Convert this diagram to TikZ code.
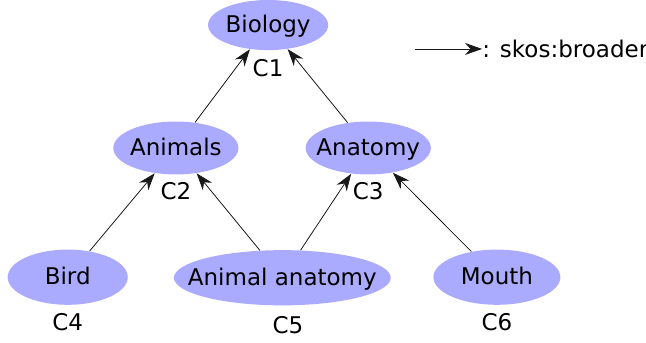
\documentclass[tikz,border=0pt]{standalone}
\usepackage{fontspec}
\setmainfont{DejaVu Sans}
\usetikzlibrary{arrows.meta,shapes.geometric}
\definecolor{conceptblue}{RGB}{170,170,255}
\tikzset{
  concept/.style={ellipse, fill=conceptblue, inner sep=0pt, minimum width=2.2cm, minimum height=0.93cm,
    label={[font=\fontsize{11.5}{13}\selectfont, text height=8.4pt, text depth=1pt, inner sep=0pt]center:#1}},
  cid/.style={font=\fontsize{11.5}{13}\selectfont, inner sep=0pt},
  broader/.style={-{Stealth[length=3mm, width=2.1mm]}, thin, black!90},
}
\begin{document}
\begin{tikzpicture}
    \useasboundingbox (0,0) rectangle (11.35,-6.01);
    \node[concept=Biology, minimum width=2.11cm, minimum height=0.88cm] (bio) at (4.71,-0.44) {};
    \node[concept=Animals] (animals) at (3.09,-2.60) {};
    \node[concept=Anatomy] (anatomy) at (6.47,-2.60) {};
    \node[concept=Bird, minimum width=2.11cm, minimum height=0.97cm] (bird) at (1.19,-4.87) {};
    \node[concept={Animal anatomy}, minimum width=3.81cm, minimum height=0.97cm] (aanat) at (4.96,-4.88) {};
    \node[concept=Mouth, minimum width=2.23cm, minimum height=0.97cm] (mouth) at (8.73,-4.87) {};
    \node[cid] (c1) at (4.71,-1.19) {C1};
    \node[cid] (c2) at (3.09,-3.36) {C2};
    \node[cid] (c3) at (6.47,-3.36) {C3};
    \node[cid] (c4) at (1.19,-5.66) {C4};
    \node[cid] (c5) at (5.06,-5.71) {C5};
    \node[cid] (c6) at (8.73,-5.66) {C6};
    \draw[broader] (animals) -- (bio);
    \draw[broader] (anatomy) -- (bio);
    \draw[broader] (bird) -- (animals);
    \draw[broader] (aanat) -- (animals);
    \draw[broader] (aanat) -- (anatomy);
    \draw[broader] (mouth) -- (anatomy);
    % legend
    \coordinate (lstart) at (7.29,-0.86);
    \node[cid, anchor=west] (legend) at (8.47,-0.86) {: skos:broader};
    \draw[broader] (lstart) -- (legend.west);
  \end{tikzpicture}
\end{document}
